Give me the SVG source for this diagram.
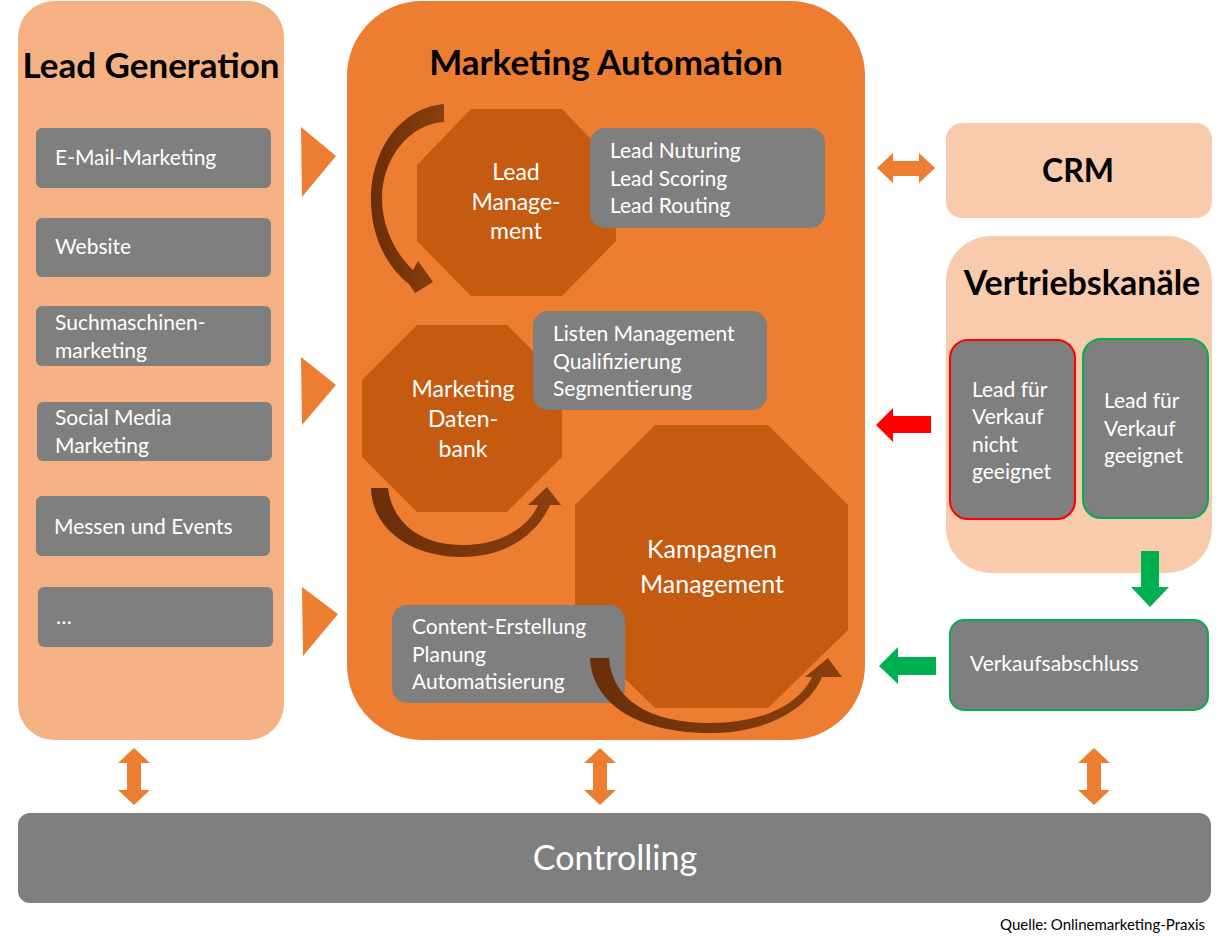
<svg xmlns="http://www.w3.org/2000/svg" width="1227" height="946" viewBox="0 0 1227 946">
<style>
text{font-family:Lato,"Open Sans","Liberation Sans",sans-serif}
.t{fill:#fff;font-size:21px}
.o{fill:#fff;font-size:23px;text-anchor:middle}
.k{fill:#fff;font-size:25px;text-anchor:middle}
.h{fill:#000;font-weight:bold;text-anchor:middle}
.g{fill:#7F7F7F}
.oct{fill:#C55A11}
.ca{fill:url(#cg)}
.oa{fill:#ED7D31}
</style>
<defs>
<linearGradient id="cg" x1="0" y1="0" x2="1" y2="0">
<stop offset="0" stop-color="#6A2E08"/>
<stop offset="1" stop-color="#8A3F0D"/>
</linearGradient>
</defs>
<rect width="1227" height="946" fill="#fff"/>

<g id="lead-generation">
<rect x="18" y="1" width="266" height="739" rx="36" fill="#F4B183"/>
<text class="h" x="151" y="78" font-size="35">Lead Generation</text>
</g>
<g id="email"><rect class="g" x="36" y="128" width="235" height="60" rx="6"/><text class="t" x="55" y="165">E-Mail-Marketing</text></g>
<g id="website"><rect class="g" x="36" y="218" width="235" height="59" rx="6"/><text class="t" x="55" y="254">Website</text></g>
<g id="sem"><rect class="g" x="36" y="306" width="235" height="60" rx="6"/><text class="t" x="55" y="330">Suchmaschinen-</text><text class="t" x="55" y="358">marketing</text></g>
<g id="social"><rect class="g" x="37" y="402" width="235" height="59" rx="6"/><text class="t" x="55" y="425">Social Media</text><text class="t" x="55" y="453">Marketing</text></g>
<g id="messen"><rect class="g" x="36" y="496" width="234" height="60" rx="6"/><text class="t" x="54" y="534">Messen und Events</text></g>
<g id="more"><rect class="g" x="38" y="587" width="235" height="60" rx="6"/><text class="t" x="56" y="624">…</text></g>

<g id="marketing-automation">
<rect x="347" y="1" width="518" height="739" rx="75" fill="#ED7D31"/>
<text class="h" x="606" y="75" font-size="35">Marketing Automation</text>
</g>

<g id="lead-management">
<polygon class="oct" points="471,109 562,109 616,165 616,241 562,296 471,296 417,241 417,165"/>
<text class="o" x="516" y="180">Lead</text>
<text class="o" x="516" y="210">Manage-</text>
<text class="o" x="516" y="239">ment</text>
</g>
<g id="lead-nurturing"><rect class="g" x="590" y="128" width="235" height="100" rx="15"/>
<text class="t" x="610" y="158">Lead Nuturing</text><text class="t" x="610" y="186">Lead Scoring</text><text class="t" x="610" y="213">Lead Routing</text></g>

<g id="marketing-datenbank">
<polygon class="oct" points="417,325 507,325 562,380 562,457 507,512 417,512 362,457 362,380"/>
<text class="o" x="463" y="397">Marketing</text>
<text class="o" x="463" y="427">Daten-</text>
<text class="o" x="463" y="457">bank</text>
</g>
<g id="listen"><rect class="g" x="533" y="311" width="234" height="99" rx="15"/>
<text class="t" x="553" y="341">Listen Management</text><text class="t" x="553" y="369">Qualifizierung</text><text class="t" x="553" y="396">Segmentierung</text></g>

<g id="kampagnen-management">
<polygon class="oct" points="655,425 768,425 848,505 848,630 768,708 655,708 575,630 575,505"/>
<text class="k" x="712" y="558">Kampagnen</text>
<text class="k" x="712" y="593">Management</text>
</g>
<g id="content"><rect class="g" x="392" y="605" width="233" height="98" rx="15"/>
<text class="t" x="412" y="634">Content-Erstellung</text><text class="t" x="412" y="662">Planung</text><text class="t" x="412" y="689">Automatisierung</text></g>

<g id="crm"><rect x="946" y="123" width="266" height="95" rx="16" fill="#F8CBAD"/>
<text class="h" x="1078" y="182" font-size="32">CRM</text></g>

<g id="vertriebskanaele"><rect x="946" y="236" width="266" height="337" rx="45" fill="#F8CBAD"/>
<text class="h" x="1082" y="295" font-size="34">Vertriebskanäle</text></g>
<g id="nicht-geeignet"><rect class="g" x="950" y="340" width="125" height="179" rx="18" stroke="#FF0000" stroke-width="2"/>
<text class="t" x="972" y="397">Lead für</text><text class="t" x="972" y="424">Verkauf</text><text class="t" x="972" y="452">nicht</text><text class="t" x="972" y="479">geeignet</text></g>
<g id="geeignet"><rect class="g" x="1083" y="339" width="125" height="179" rx="18" stroke="#00B050" stroke-width="2"/>
<text class="t" x="1104" y="408">Lead für</text><text class="t" x="1104" y="436">Verkauf</text><text class="t" x="1104" y="463">geeignet</text></g>

<g id="verkaufsabschluss"><rect class="g" x="950" y="620" width="258" height="90" rx="14" stroke="#00B050" stroke-width="2"/>
<text class="t" x="970" y="671">Verkaufsabschluss</text></g>

<g id="controlling"><rect class="g" x="18" y="813" width="1193" height="90" rx="12"/>
<text x="615" y="870" font-size="34" fill="#fff" text-anchor="middle">Controlling</text></g>

<g id="source"><text x="1205" y="930" font-size="15" fill="#000" text-anchor="end">Quelle: Onlinemarketing-Praxis</text></g>

<g id="connectors">
<polygon class="oa" points="301,127 336,156 302,197"/>
<polygon class="oa" points="301,357 336,385 302,425"/>
<polygon class="oa" points="302,587 338,614 303,656"/>
<polygon class="oa" points="877,168 893,153 893,161 919,161 919,153 935,168 919,183 919,176 893,176 893,183"/>
<polygon fill="#FF0000" points="876,425 893,408 893,416 931,416 931,433 893,433 893,442"/>
<polygon fill="#00B050" points="1141,551 1159,551 1159,587 1169,587 1150,607 1131,587 1141,587"/>
<polygon fill="#00B050" points="879,666 898,647 898,657 936,657 936,675 898,675 898,684"/>
<polygon class="oa" points="134,748 150,763 141,763 141,790 150,790 134,805 118,790 127,790 127,763 118,763"/>
<polygon class="oa" points="600,748 616,763 607,763 607,790 616,790 600,805 584,790 593,790 593,763 584,763"/>
<polygon class="oa" points="1094,748 1110,763 1101,763 1101,790 1110,790 1094,805 1078,790 1087,790 1087,763 1078,763"/>
<path class="ca" d="M444,104 L444,122 C408,124 382,160 382,198 C382,228 396,254 413,270 L418,261 L433,282 L415,293 L409,284 C388,268 371,238 371,200 C371,150 400,108 444,104 Z"/>
<path class="ca" d="M371,488 L388,488 C392,522 420,545 462,545 C500,545 528,528 538,505 L528,505 L547,487 L561,505 L550,505 C537,535 505,557 462,557 C412,557 372,530 371,488 Z"/>
<path class="ca" d="M590,658 L609,658 C612,700 650,723 710,723 C765,723 800,703 812,677 L805,677 L828,658 L842,677 L822,677 C808,710 765,733 710,733 C640,733 592,705 590,658 Z"/>
</g>
</svg>
